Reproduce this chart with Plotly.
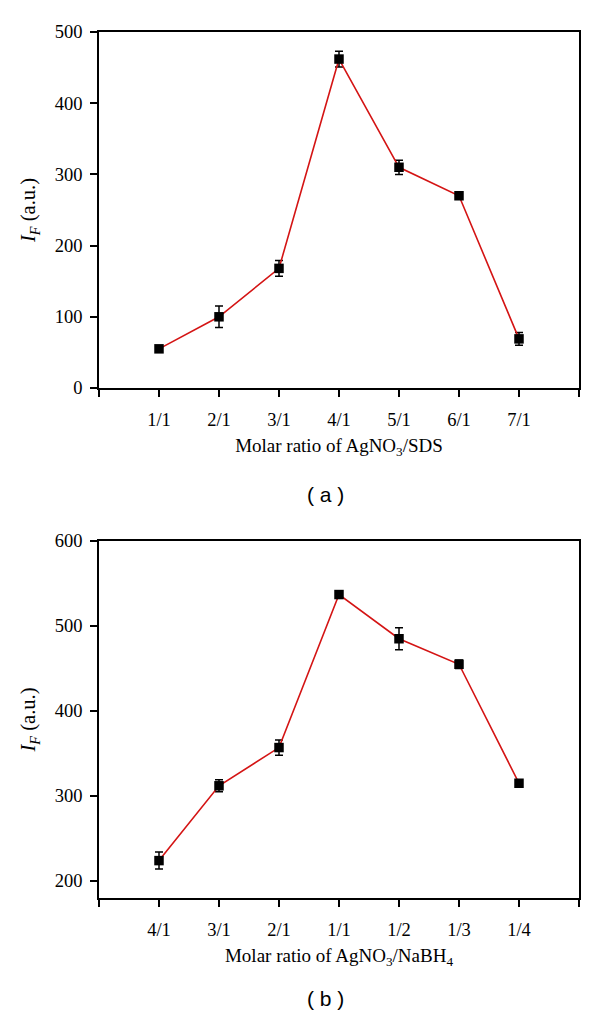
import plotly.graph_objects as go

# Panel (a)
labels_a = ["1/1", "2/1", "3/1", "4/1", "5/1", "6/1", "7/1"]
values_a = [55, 100, 168, 462, 310, 270, 69]
errors_a = [4, 15, 11, 11, 10, 3, 9]

# Panel (b)
labels_b = ["4/1", "3/1", "2/1", "1/1", "1/2", "1/3", "1/4"]
values_b = [224, 312, 357, 537, 485, 455, 315]
errors_b = [10, 7, 9, 2, 13, 5, 3]

yticks_a = [0, 100, 200, 300, 400, 500]
yticks_b = [200, 300, 400, 500, 600]

LINE = "#d41414"
SERIF = "Liberation Serif"
SANS = "Liberation Sans"
W = 600.0
H = 1014.0
OFF = 8.0  # default page body margin

fig = go.Figure()

pos_a = list(range(1, len(labels_a) + 1))
pos_b = list(range(1, len(labels_b) + 1))

fig.add_trace(go.Scatter(
    x=pos_a, y=values_a, mode="lines+markers",
    line=dict(color=LINE, width=1.6),
    marker=dict(symbol="square", size=9.5, color="black"),
    error_y=dict(type="data", array=errors_a, visible=True, color="black", thickness=1.5, width=4),
    xaxis="x", yaxis="y", showlegend=False,
))
fig.add_trace(go.Scatter(
    x=pos_b, y=values_b, mode="lines+markers",
    line=dict(color=LINE, width=1.6),
    marker=dict(symbol="square", size=9.5, color="black"),
    error_y=dict(type="data", array=errors_b, visible=True, color="black", thickness=1.5, width=4),
    xaxis="x2", yaxis="y2", showlegend=False,
))

def xaxis(labels, domain, anchor, title):
    n = len(labels)
    return dict(
        domain=domain, anchor=anchor, range=[0, n + 1], automargin=False,
        tickvals=list(range(1, n + 1)), ticktext=labels,
        ticks="outside", ticklen=7, tickwidth=1.5, tickcolor="black",
        ticklabelstandoff=7,
        minor=dict(tickmode="linear", tick0=0, dtick=1, ticks="outside",
                   ticklen=7, tickwidth=1.5, tickcolor="black", showgrid=False),
        showline=True, linecolor="black", linewidth=1.8, mirror=True,
        showgrid=False, zeroline=False,
        tickfont=dict(family=SERIF, size=18.5, color="black"),
        title=dict(text=title, font=dict(family=SERIF, size=19, color="black"), standoff=10),
    )

def yaxis(ticks, rng, domain, anchor):
    return dict(
        domain=domain, anchor=anchor, range=rng, automargin=False,
        tickvals=ticks, ticks="outside", ticklen=7, tickwidth=1.5, tickcolor="black",
        ticklabelstandoff=4,
        showline=True, linecolor="black", linewidth=1.8, mirror=True,
        showgrid=False, zeroline=False,
        tickfont=dict(family=SERIF, size=18.5, color="black"),
        title=dict(text="<i>I</i><sub><i>F</i></sub> (a.u.)",
                   font=dict(family=SERIF, size=20.5, color="black"), standoff=13),
    )

def px_x(a, b):
    return [(a - OFF) / W, (b - OFF) / W]

def px_y(top, bottom):
    return [1 - (bottom - OFF) / H, 1 - (top - OFF) / H]

xd = px_x(99, 579)
fig.update_layout(
    width=600, height=1014,
    margin=dict(l=0, r=0, t=0, b=0, autoexpand=False),
    paper_bgcolor="white", plot_bgcolor="white",
    xaxis=xaxis(labels_a, xd, "y", "Molar ratio of AgNO<sub>3</sub>/SDS"),
    yaxis=yaxis(yticks_a, [0, 500], px_y(32, 388), "x"),
    xaxis2=xaxis(labels_b, xd, "y2", "Molar ratio of AgNO<sub>3</sub>/NaBH<sub>4</sub>"),
    yaxis2=yaxis(yticks_b, [180, 600], px_y(541, 898), "x2"),
    annotations=[
        dict(text="( a )", x=(325 - OFF) / W, y=1 - (494 - OFF) / H, xref="paper", yref="paper",
             showarrow=False, font=dict(family=SANS, size=21, color="black"),
             xanchor="center", yanchor="middle"),
        dict(text="( b )", x=(325 - OFF) / W, y=1 - (998 - OFF) / H, xref="paper", yref="paper",
             showarrow=False, font=dict(family=SANS, size=21, color="black"),
             xanchor="center", yanchor="middle"),
    ],
)

fig.write_html("out.html")
